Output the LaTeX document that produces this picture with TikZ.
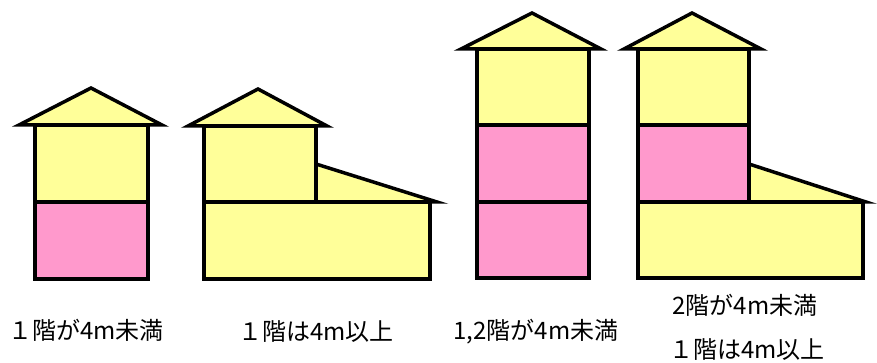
\documentclass[tikz,border=0pt]{standalone}
\usepackage{fontspec}
\newfontfamily\jfont{Noto Sans CJK JP}
\definecolor{wallyellow}{RGB}{255,255,153}
\definecolor{wallpink}{RGB}{255,153,204}

\begin{document}
\begin{tikzpicture}[x=1pt,y=-1pt,line width=3.5pt,
  yel/.style={draw,fill=wallyellow},
  pnk/.style={draw,fill=wallpink},
  lbl/.style={font=\jfont\fontsize{24}{28}\selectfont,inner sep=0pt}]
\useasboundingbox (0,0) rectangle (877,363);
% house 1: two storeys, lower one pink
\draw[yel] (35,125) rectangle (148,202);
\draw[pnk] (35,202) rectangle (148,279);
\draw[yel] (19,125) -- (91,88) -- (162,125) -- cycle;
% house 2: tower on a wide ground floor
\draw[yel] (204,202) -- (437,202) -- (316,164) -- (316,202);
\draw[yel] (204,202) rectangle (430,279);
\draw[yel] (204,126) rectangle (316,202);
\draw[yel] (188,126) -- (258,89) -- (327,126) -- cycle;
% house 3: three storeys, two pink
\draw[yel] (477,49) rectangle (589,125);
\draw[pnk] (477,125) rectangle (589,202);
\draw[pnk] (477,202) rectangle (589,278);
\draw[yel] (461,49) -- (532,13) -- (601,49) -- cycle;
% house 4: pink second storey over a wide ground floor
\draw[yel] (638,202) -- (866,202) -- (749,164) -- (749,202);
\draw[yel] (638,202) rectangle (863,278);
\draw[pnk] (638,125) rectangle (749,202);
\draw[yel] (638,49) rectangle (749,125);
\draw[yel] (624,49) -- (692,13) -- (761,49) -- cycle;
% captions
\node[lbl] (cap1) at (86,330) {１階が4m未満};
\node[lbl] (cap2) at (316,332) {１階は4m以上};
\node[lbl] (cap3) at (536,332) {1,2階が4m未満};
\node[lbl] (cap4a) at (745,305) {2階が4m未満};
\node[lbl] (cap4b) at (747,350) {１階は4m以上};
\end{tikzpicture}
\end{document}
